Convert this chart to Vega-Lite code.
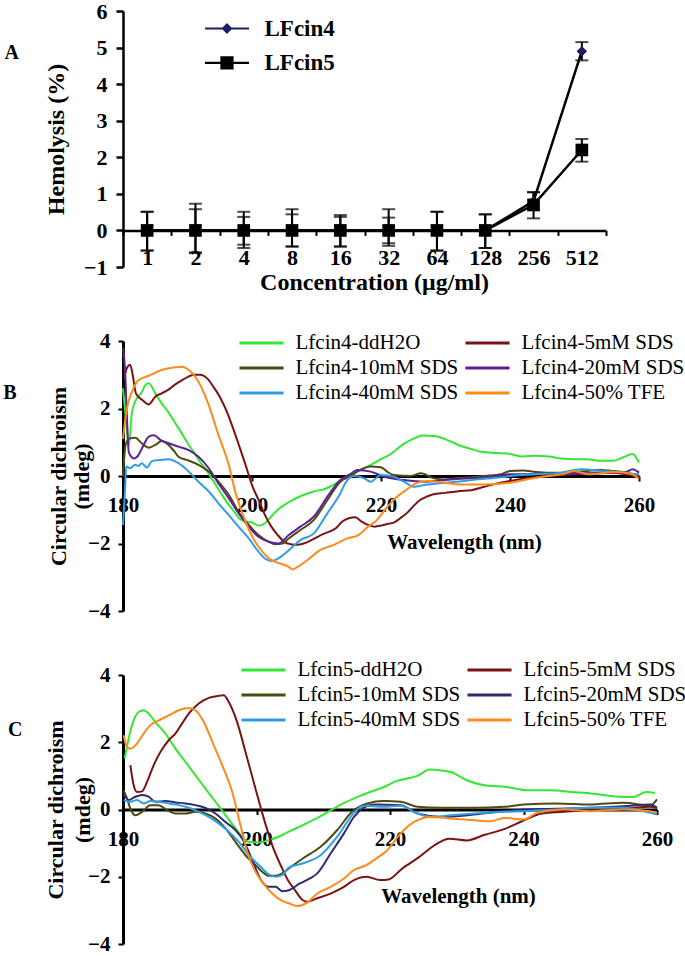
{
  "$schema": "https://vega.github.io/schema/vega-lite/v6.json",
  "padding": {"left": 3, "top": 0, "right": 0, "bottom": 0},
  "background": "white",
  "config": {
    "font": "Liberation Serif",
    "view": {"stroke": null},
    "axis": {"grid": false, "domainColor": "black", "tickColor": "black", "labelColor": "black", "titleColor": "black", "labelFont": "Liberation Serif", "titleFont": "Liberation Serif", "labelFontWeight": "bold", "titleFontWeight": "bold", "tickWidth": 2, "labelOverlap": false},
    "axisY": {"labelOverlap": false},
    "legend": {"labelFont": "Liberation Serif", "labelColor": "black"},
    "title": {"font": "Liberation Serif", "fontWeight": "bold", "color": "black"}
  },
  "datasets": {
    "hemo": [
      {"series": "LFcin4", "conc": "1", "value": 0, "lo": -0.55, "hi": 0.51},
      {"series": "LFcin4", "conc": "2", "value": 0, "lo": -0.6, "hi": 0.58},
      {"series": "LFcin4", "conc": "4", "value": 0, "lo": -0.39, "hi": 0.37},
      {"series": "LFcin4", "conc": "8", "value": 0, "lo": -0.44, "hi": 0.44},
      {"series": "LFcin4", "conc": "16", "value": 0, "lo": -0.44, "hi": 0.37},
      {"series": "LFcin4", "conc": "32", "value": 0, "lo": -0.35, "hi": 0.35},
      {"series": "LFcin4", "conc": "64", "value": 0, "lo": -0.55, "hi": 0.51},
      {"series": "LFcin4", "conc": "128", "value": 0, "lo": -0.48, "hi": 0.44},
      {"series": "LFcin4", "conc": "256", "value": 0.8, "lo": 0.55, "hi": 1.04},
      {"series": "LFcin4", "conc": "512", "value": 4.9, "lo": 4.65, "hi": 5.15},
      {"series": "LFcin5", "conc": "1", "value": 0, "lo": -0.55, "hi": 0.51},
      {"series": "LFcin5", "conc": "2", "value": 0, "lo": -0.62, "hi": 0.73},
      {"series": "LFcin5", "conc": "4", "value": 0, "lo": -0.48, "hi": 0.51},
      {"series": "LFcin5", "conc": "8", "value": 0, "lo": -0.44, "hi": 0.58},
      {"series": "LFcin5", "conc": "16", "value": 0, "lo": -0.44, "hi": 0.42},
      {"series": "LFcin5", "conc": "32", "value": 0, "lo": -0.42, "hi": 0.58},
      {"series": "LFcin5", "conc": "64", "value": 0, "lo": -0.55, "hi": 0.51},
      {"series": "LFcin5", "conc": "128", "value": 0, "lo": -0.48, "hi": 0.44},
      {"series": "LFcin5", "conc": "256", "value": 0.7, "lo": 0.33, "hi": 1.05},
      {"series": "LFcin5", "conc": "512", "value": 2.2, "lo": 1.88, "hi": 2.5}
    ],
    "cdB": [
      {"s": "Lfcin4-ddH2O",
       "nm": [180,180.5,180.9,181.4,182,182.8,183.5,184,185,186,187,188,189,190,191,192,193,194,195,196,197,198,199,200,201,202,203,204,205.5,207.5,209.6,211.5,213.2,215,216.5,218.4,220,221.5,223.5,225,226.5,228.5,230.5,232,234,235.5,238,240,242,244,246,248,250,252,254,256,257.5,259,260],
       "v": [2.6,1.6,0.9,1.9,2.25,2.45,2.7,2.75,2.45,2.15,1.9,1.6,1.3,0.98,0.7,0.4,0.15,-0.15,-0.45,-0.75,-1.0,-1.25,-1.35,-1.38,-1.47,-1.4,-1.2,-1.0,-0.8,-0.6,-0.46,-0.37,-0.2,0.0,0.15,0.33,0.5,0.65,0.95,1.1,1.2,1.18,1.05,0.92,0.8,0.72,0.68,0.65,0.58,0.6,0.58,0.52,0.5,0.5,0.45,0.45,0.55,0.65,0.4]},
      {"s": "Lfcin4-5mM SDS",
       "nm": [180.2,180.6,181.1,181.5,182,183,184,185,186,187,188,189,190,191,192,193,194,195,196,197,198,199,200,201,202,203,204,205,206,207,208,209,210,211,212,213,214,215,216,217,218,219,220,221,222,223,224,225,226,227,228,230,232,234,236,238,240,242,244,246,248,250,252,254,256,258,260],
       "v": [2.9,3.2,3.3,3.0,2.45,2.25,2.12,2.35,2.45,2.55,2.7,2.82,2.93,3.0,3.0,2.9,2.65,2.35,1.95,1.45,0.9,0.33,-0.27,-0.7,-1.15,-1.5,-1.75,-1.95,-2.02,-2.04,-2.0,-1.92,-1.82,-1.72,-1.65,-1.55,-1.35,-1.25,-1.22,-1.35,-1.45,-1.5,-1.47,-1.42,-1.38,-1.25,-1.1,-0.9,-0.72,-0.62,-0.55,-0.5,-0.45,-0.42,-0.32,-0.22,-0.15,-0.08,-0.04,0.0,0.03,0.05,0.07,0.08,0.1,0.05,-0.05]},
      {"s": "Lfcin4-10mM SDS",
       "nm": [180,180.4,180.9,181.9,182.9,184,185,186,187,188,188.6,190,191.7,193.3,194.8,196.4,197.9,199.5,201,202.6,203.6,204.7,205.7,207.5,209.6,211.7,213.7,215.3,216.5,218.4,220,221,222,224.6,226.2,228.2,229.8,232,234,236,238.6,240,242,244,246,248,250,252,254,256,258,260],
       "v": [0.0,0.92,1.1,1.13,0.97,0.84,0.92,1.04,0.93,0.72,0.57,0.47,0.33,0.13,-0.17,-0.56,-1.06,-1.45,-1.75,-1.95,-2.02,-2.0,-1.85,-1.6,-1.3,-0.71,-0.17,0.0,0.15,0.28,0.26,0.12,0.03,0.0,0.08,-0.07,-0.1,-0.06,-0.04,0.0,0.05,0.15,0.16,0.12,0.1,0.1,0.12,0.15,0.18,0.15,0.1,0.0]},
      {"s": "Lfcin4-20mM SDS",
       "nm": [180,180.3,180.6,180.9,181.7,182.4,183.2,184,184.8,185.8,187.1,188.6,190.2,191.7,193.3,194.8,196.4,197.9,199.5,201,202.6,204.1,205.7,207.5,209.6,211.7,213.7,215.3,216.3,218.4,220.5,223.6,226.7,229.8,233.9,236,238.6,240,244,248,252,256,258,259,260],
       "v": [3.8,3.2,1.8,0.7,0.52,0.62,0.92,1.17,1.21,1.07,0.97,0.87,0.77,0.57,0.23,-0.22,-0.66,-1.1,-1.5,-1.8,-1.95,-2.0,-1.75,-1.5,-1.2,-0.61,-0.12,0.06,0.18,0.13,-0.02,-0.12,-0.17,-0.12,-0.07,-0.05,0.03,0.05,0.05,0.05,0.08,0.1,0.12,0.2,0.1]},
      {"s": "Lfcin4-40mM SDS",
       "nm": [180,180.3,180.5,181.1,181.9,182.4,182.9,183.7,184.5,185.5,187.1,188.6,190.2,191.7,193.3,194.8,196.4,197.9,199.5,201,202.1,203.1,204.1,205.7,207.5,209.6,211.7,213.7,214.5,215.8,217.4,218.4,220,222,223.6,225.1,226.7,228.7,231.8,235,238.6,240,244,248,251,254,258,260],
       "v": [-1.45,-0.46,0.28,0.23,0.33,0.3,0.38,0.25,0.44,0.47,0.5,0.38,0.13,-0.17,-0.46,-0.81,-1.16,-1.5,-1.85,-2.24,-2.46,-2.52,-2.44,-2.2,-1.9,-1.7,-1.1,-0.51,-0.2,0.0,-0.07,-0.17,0.03,-0.02,-0.17,-0.32,-0.27,-0.22,-0.17,-0.1,-0.04,0.0,0.05,0.1,0.2,0.15,0.1,0.05]},
      {"s": "Lfcin4-50% TFE",
       "nm": [180,180.6,181.4,182.4,184,186,188.1,189.1,190.2,191.7,193.3,194.8,196.4,197.4,199,200.5,201.6,202.6,203.6,205.7,206.3,207,208.6,210.6,212.7,214.8,216.5,218,219.4,220.6,222,224,225.1,227.2,230,232,236,240,244,246,248,250,252,254,256,259,260],
       "v": [1.1,2.0,2.5,2.84,2.97,3.14,3.22,3.24,3.14,2.79,2.1,1.21,0.33,-0.46,-1.35,-1.95,-2.24,-2.44,-2.54,-2.69,-2.77,-2.7,-2.49,-2.19,-2.04,-1.85,-1.75,-1.5,-1.3,-1.0,-0.7,-0.4,-0.25,-0.15,-0.2,-0.25,-0.25,-0.2,-0.05,0.0,0.05,0.15,0.05,0.08,0.12,0.05,-0.1]}
    ],
    "cdC": [
      {"s": "Lfcin5-ddH2O",
       "nm": [180.25,180.85,181.6,182.35,183.1,183.85,184.85,186.35,187.85,189.35,190.85,192.35,193.85,195.35,196.85,197.85,198.85,200.35,201.85,203.35,204.85,207.1,209.6,211.5,213,215,217,219.1,221,222.6,224.1,226,228,229,231.5,234.1,237.4,240.7,244,247.2,250.5,253.8,256.4,258.4,259.7],
       "v": [1.52,2.11,2.65,2.9,2.95,2.85,2.6,2.26,1.81,1.42,1.02,0.62,0.23,-0.17,-0.56,-0.81,-0.96,-0.98,-0.91,-0.81,-0.66,-0.45,-0.2,0.02,0.18,0.36,0.52,0.67,0.85,0.92,1.0,1.19,1.15,1.12,0.87,0.72,0.67,0.57,0.57,0.52,0.47,0.39,0.37,0.52,0.49]},
      {"s": "Lfcin5-5mM SDS",
       "nm": [181.1,181.6,182.1,182.85,183.6,184.6,185.6,186.85,187.85,188.85,189.85,191.35,192.85,194.35,195.1,195.85,197.1,198.35,199.85,201.1,202.35,203.6,204.85,205.6,206.9,207.6,209.1,211.1,213.1,214.6,216.5,218.5,219.8,221.8,224.4,226.7,228.9,231.5,234.1,237.4,240.1,242.7,246,250.5,255.1,259,260],
       "v": [1.32,0.72,0.52,0.54,0.82,1.32,1.71,2.06,2.26,2.56,2.85,3.15,3.32,3.38,3.4,3.2,2.6,1.71,0.62,-0.27,-1.06,-1.65,-2.15,-2.35,-2.69,-2.74,-2.64,-2.5,-2.3,-2.1,-2.0,-2.1,-2.08,-1.76,-1.41,-1.06,-0.87,-0.92,-0.76,-0.56,-0.32,-0.12,-0.07,0.0,0.03,0.08,0.05]},
      {"s": "Lfcin5-10mM SDS",
       "nm": [180.1,180.6,181.1,181.85,182.85,184.1,185.35,186.6,187.85,189.35,190.85,192.35,193.85,195.35,196.85,198.35,199.85,200.85,201.85,202.85,203.85,204.85,207,209.6,212.1,214.3,216.6,219.1,221.6,224.1,227.6,232.6,237.1,240,245,250,255,259,260],
       "v": [0.57,0.33,0.03,-0.17,-0.07,0.13,0.13,-0.02,-0.12,-0.12,-0.07,-0.12,-0.27,-0.56,-0.96,-1.36,-1.65,-1.85,-1.97,-1.97,-1.9,-1.75,-1.45,-1.11,-0.61,-0.07,0.18,0.25,0.23,0.08,0.05,0.05,0.08,0.15,0.18,0.15,0.2,0.12,0.3]},
      {"s": "Lfcin5-20mM SDS",
       "nm": [180.1,180.85,181.85,182.85,183.85,184.85,186.35,187.85,189.35,190.85,192.35,193.85,195.35,196.85,197.85,198.85,199.85,200.85,201.85,202.85,203.85,204.85,206.5,208,209.1,211.1,213.1,214.6,216,217.6,221.6,224.1,227.6,232.6,237.1,240,245,250,255,259,260],
       "v": [0.48,0.28,0.38,0.43,0.38,0.23,0.25,0.21,0.18,0.13,0.05,-0.12,-0.37,-0.61,-0.86,-1.26,-1.75,-2.15,-2.3,-2.3,-2.43,-2.4,-2.2,-2.05,-1.9,-1.31,-0.71,-0.22,0.05,0.15,0.13,-0.12,-0.22,-0.15,-0.05,0.0,0.02,0.05,0.1,0.15,0.05]},
      {"s": "Lfcin5-40mM SDS",
       "nm": [180.1,181.1,182.1,183.1,184.1,185.35,186.85,188.35,189.85,191.35,192.85,194.35,195.85,197.35,198.85,200.35,201.85,202.85,203.85,204.85,207,209.6,212.1,214.6,216.1,219.1,221.6,223.6,226.1,229.1,232.6,237.1,240,245,250,255,259,260],
       "v": [0.28,0.23,0.28,0.18,0.25,0.23,0.18,0.13,0.05,-0.07,-0.22,-0.42,-0.66,-0.96,-1.36,-1.65,-1.93,-2.0,-1.95,-1.73,-1.6,-1.36,-0.81,-0.1,0.11,0.08,0.11,-0.07,-0.22,-0.17,-0.12,-0.07,-0.05,0.0,0.05,0.05,-0.1,-0.15]},
      {"s": "Lfcin5-50% TFE",
       "nm": [180.1,180.6,181.1,182.1,183.1,184.1,185.35,186.85,188.35,189.85,190.85,192.1,193.6,194.85,196.35,197.6,198.6,199.85,200.85,202.35,203.85,204.85,206.1,207.6,209.1,211.1,213.1,214.6,216.5,218,219.6,221.6,223.6,226.1,229.1,232.6,235,237.1,240,242,246,250,255,259,260],
       "v": [2.21,1.86,1.81,1.96,2.26,2.51,2.65,2.8,2.95,3.02,2.95,2.6,1.91,1.32,0.53,-0.47,-1.26,-1.85,-2.15,-2.5,-2.72,-2.79,-2.87,-2.77,-2.5,-2.3,-2.05,-1.8,-1.65,-1.45,-1.21,-0.71,-0.37,-0.22,-0.27,-0.32,-0.35,-0.25,-0.3,-0.1,0.0,-0.05,0.0,-0.05,-0.1]}
    ]
  },
  "spacing": 74,
  "bounds": "flush",
  "resolve": {"scale": {"color": "independent", "shape": "independent"}, "legend": {"color": "independent", "shape": "independent"}},
  "vconcat": [
    {
      "width": 483,
      "height": 256,
      "title": {"text": "A", "orient": "left", "angle": 0, "anchor": "middle", "frame": "group", "align": "right", "baseline": "middle", "dy": -86, "offset": 10.5, "fontSize": 20},
      "data": {"name": "hemo"},
      "encoding": {
        "x": {"field": "conc", "type": "ordinal", "sort": ["1","2","4","8","16","32","64","128","256","512"],
              "scale": {"type": "band", "paddingInner": 0, "paddingOuter": 0},
              "axis": {"title": "Concentration (μg/ml)", "offset": -36.57, "labelAngle": 0, "tickBand": "extent", "tickSize": 5, "labelPadding": 12, "labelFontSize": 22, "titleFontSize": 24, "titleX": 251, "titleY": 52, "titleBaseline": "middle", "domainWidth": 2.5, "labelOverlap": false}},
        "y": {"field": "value", "type": "quantitative", "scale": {"domain": [-1, 6], "nice": false},
              "axis": {"values": [-1,0,1,2,3,4,5,6], "title": "Hemolysis (%)", "tickSize": 7, "labelPadding": 9, "labelFontSize": 22, "titleFontSize": 24, "titleX": -67, "titleY": 128, "titleAngle": -90, "titleBaseline": "middle", "titleAlign": "center", "domainWidth": 2.5, "tickWidth": 2.5, "labelOverlap": false, "labelFlush": false}}
      },
      "layer": [
        {"transform": [{"fold": ["lo", "hi"], "as": ["end", "value"]}],
         "mark": {"type": "line", "color": "black", "strokeWidth": 2},
         "encoding": {"detail": [{"field": "series"}, {"field": "conc"}]}},
        {"transform": [{"fold": ["lo", "hi"], "as": ["end", "value"]}],
         "mark": {"type": "tick", "color": "black", "thickness": 2, "size": 13}},
        {"mark": {"type": "line", "color": "black", "strokeWidth": 2.5},
         "encoding": {"detail": {"field": "series"}}},
        {"transform": [{"filter": "datum.series === 'LFcin4'"}],
         "mark": {"type": "point", "shape": "diamond", "filled": true, "color": "#1c1c66", "size": 110, "opacity": 1}},
        {"transform": [{"filter": "datum.series === 'LFcin5'"}],
         "mark": {"type": "square", "color": "black", "size": 160, "opacity": 1}},
        {"mark": {"type": "point", "filled": true, "opacity": 0},
         "encoding": {
           "shape": {"field": "series", "type": "nominal",
                     "scale": {"domain": ["LFcin4", "LFcin5"], "range": ["M-2.1,-0.1H2.1V0.1H-2.1Z M0,-0.52L0.52,0L0,0.52L-0.52,0Z", "M-2.1,-0.1H2.1V0.1H-2.1Z M-0.63,-0.63H0.63V0.63H-0.63Z"]},
                     "legend": {"orient": "none", "legendX": 81, "legendY": 6, "title": null, "symbolSize": 441, "symbolOffset": 11.5, "symbolOpacity": 1, "symbolStrokeWidth": 0, "labelFontSize": 23, "labelFontWeight": "bold", "labelOffset": 26, "rowPadding": 10.4}},
           "color": {"field": "series", "type": "nominal",
                     "scale": {"domain": ["LFcin4", "LFcin5"], "range": ["#1c1c66", "black"]},
                     "legend": {"orient": "none", "legendX": 81, "legendY": 6, "title": null, "symbolSize": 441, "symbolOffset": 11.5, "symbolOpacity": 1, "symbolStrokeWidth": 0, "labelFontSize": 23, "labelFontWeight": "bold", "labelOffset": 26, "rowPadding": 10.4}}
         }}
      ]
    },
    {
      "spacing": 64,
      "bounds": "flush",
      "resolve": {"scale": {"color": "independent"}, "legend": {"color": "independent"}},
      "vconcat": [
        {
          "width": 516,
          "height": 270,
          "title": {"text": "B", "orient": "left", "angle": 0, "anchor": "middle", "frame": "group", "align": "right", "baseline": "middle", "dy": -83, "offset": 17, "fontSize": 20},
          "data": {"name": "cdB"},
          "transform": [{"flatten": ["nm", "v"]}],
          "mark": {"type": "line", "strokeWidth": 2, "interpolate": "monotone"},
          "encoding": {
            "x": {"field": "nm", "type": "quantitative", "scale": {"domain": [180, 260], "nice": false},
                  "axis": {"values": [180,200,220,240,260], "title": "Wavelength (nm)", "offset": -135, "tickSize": 5, "labelPadding": 13, "labelFontSize": 21, "titleFontSize": 21, "titleX": 341, "titleY": 66, "titleBaseline": "middle", "labelFlush": false, "domainWidth": 3}},
            "y": {"field": "v", "type": "quantitative", "scale": {"domain": [-4, 4], "nice": false},
                  "axis": {"values": [-4,-2,0,2,4], "title": ["Circular dichroism", "(mdeg)"], "tickSize": 5, "labelPadding": 8, "labelFontSize": 21, "titleFontSize": 22, "titleX": -65, "titleY": 135, "titleAngle": -90, "titleBaseline": "middle", "titleAlign": "center", "titleLineHeight": 23, "domainWidth": 3}},
            "color": {"field": "s", "type": "nominal",
                      "scale": {"domain": ["Lfcin4-ddH2O","Lfcin4-5mM SDS","Lfcin4-10mM SDS","Lfcin4-20mM SDS","Lfcin4-40mM SDS","Lfcin4-50% TFE"],
                                "range": ["#35e635","#7a1414","#4d4a12","#5b2290","#2e9de8","#ff8a1c"]},
                      "legend": {"orient": "none", "legendX": 115, "legendY": -10, "columns": 2, "direction": "horizontal", "title": null, "symbolType": "M-2.1,0H2.1", "symbolSize": 441, "symbolOffset": 11.5, "symbolStrokeWidth": 3, "labelFontSize": 21, "labelOffset": 22, "columnPadding": 0, "rowPadding": 3, "labelLimit": 400}}
          }
        },
        {
          "width": 534,
          "height": 269,
          "title": {"text": "C", "orient": "left", "angle": 0, "anchor": "middle", "frame": "group", "align": "right", "baseline": "middle", "dy": -80, "offset": 7, "fontSize": 20},
          "data": {"name": "cdC"},
          "transform": [{"flatten": ["nm", "v"]}],
          "mark": {"type": "line", "strokeWidth": 2, "interpolate": "monotone"},
          "encoding": {
            "x": {"field": "nm", "type": "quantitative", "scale": {"domain": [180, 260], "nice": false},
                  "axis": {"values": [180,200,220,240,260], "title": "Wavelength (nm)", "offset": -134.5, "tickSize": 5, "labelPadding": 14, "labelFontSize": 21, "titleFontSize": 21, "titleX": 335, "titleY": 87, "titleBaseline": "middle", "labelFlush": false, "domainWidth": 3}},
            "y": {"field": "v", "type": "quantitative", "scale": {"domain": [-4, 4], "nice": false},
                  "axis": {"values": [-4,-2,0,2,4], "title": ["Circular dichroism", "(mdeg)"], "tickSize": 5, "labelPadding": 8, "labelFontSize": 21, "titleFontSize": 22, "titleX": -68, "titleY": 134.5, "titleAngle": -90, "titleBaseline": "middle", "titleAlign": "center", "titleLineHeight": 27, "domainWidth": 3}},
            "color": {"field": "s", "type": "nominal",
                      "scale": {"domain": ["Lfcin5-ddH2O","Lfcin5-5mM SDS","Lfcin5-10mM SDS","Lfcin5-20mM SDS","Lfcin5-40mM SDS","Lfcin5-50% TFE"],
                                "range": ["#35e635","#7a1414","#4d4a12","#2b2b70","#2e9de8","#ff8a1c"]},
                      "legend": {"orient": "none", "legendX": 117, "legendY": -17, "columns": 2, "direction": "horizontal", "title": null, "symbolType": "M-2.1,0H2.1", "symbolSize": 441, "symbolOffset": 11.5, "symbolStrokeWidth": 3, "labelFontSize": 21, "labelOffset": 22, "columnPadding": 0, "rowPadding": 3, "labelLimit": 400}}
          }
        }
      ]
    }
  ]
}
